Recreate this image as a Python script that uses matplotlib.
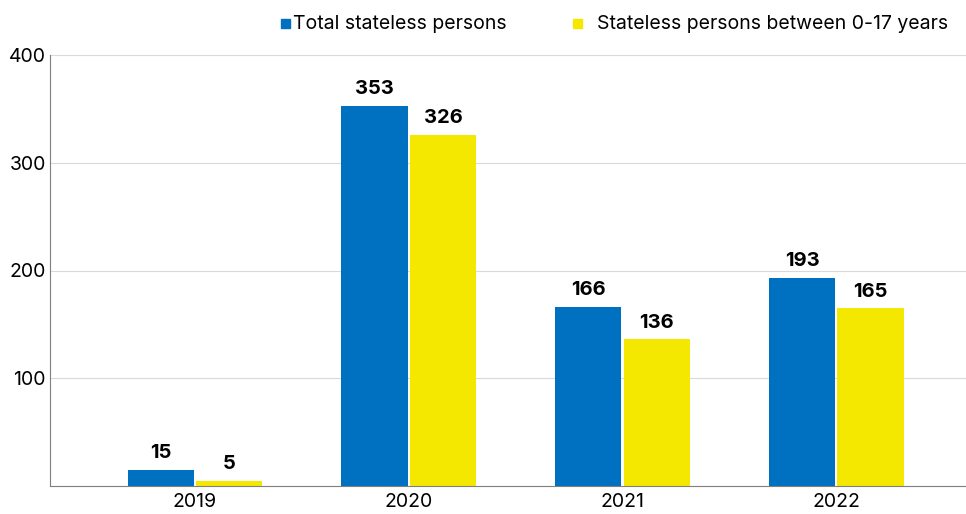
import numpy as np
import matplotlib.pyplot as plt
from matplotlib.patches import Rectangle

years = ["2019", "2020", "2021", "2022"]
total = [15, 353, 166, 193]
children = [5, 326, 136, 165]
yticks = [100, 200, 300, 400]
legend_labels = ["Total stateless persons", "Stateless persons between 0-17 years"]

blue = "#0070C0"
yellow = "#F5E800"

plt.rcParams['font.family'] = ['Inter', 'DejaVu Sans']

W, H = 966, 514
fig = plt.figure(figsize=(W / 100, H / 100), dpi=100)
ax = fig.add_axes([50 / W, 1 - 486 / H, 916 / W, 431 / H])

x = np.arange(len(years))
w = 0.31
b1 = ax.bar(x - w / 2 - 0.005, total, w, color=blue)
b2 = ax.bar(x + w / 2 + 0.005, children, w, color=yellow)

for bars in (b1, b2):
    for rect in bars:
        h = rect.get_height()
        ax.annotate(str(int(h)), (rect.get_x() + rect.get_width() / 2, h),
                    xytext=(0, 5.5), textcoords="offset points",
                    ha="center", va="bottom", fontsize=14.5, fontweight="bold")

ax.set_xlim(-0.678, 3.607)
ax.set_ylim(0, 400)
ax.set_xticks(x)
ax.set_xticklabels(years, fontsize=14)
ax.set_yticks(yticks)
ax.set_yticklabels([str(v) for v in yticks], fontsize=14)
ax.tick_params(axis="both", length=0)
ax.tick_params(axis="x", pad=5)
ax.tick_params(axis="y", pad=3)
ax.yaxis.grid(True, color="#D9D9D9", linewidth=0.8)
ax.set_axisbelow(True)
for s in ("top", "right"):
    ax.spines[s].set_visible(False)
ax.spines["left"].set_color("#7F7F7F")
ax.spines["bottom"].set_color("#7F7F7F")

# legend drawn by hand: the two entries have different gaps in the original
legend_items = [(281, 293, blue), (573, 597, yellow)]
for (sq_x, tx, col), lab in zip(legend_items, legend_labels):
    fig.patches.append(Rectangle((sq_x / W, 1 - 28 / H), 9 / W, 9 / H,
                                 transform=fig.transFigure, color=col))
    fig.text(tx / W, 1 - 24 / H, lab, ha="left", va="center", fontsize=14)

fig.savefig("out.png", dpi=100)
